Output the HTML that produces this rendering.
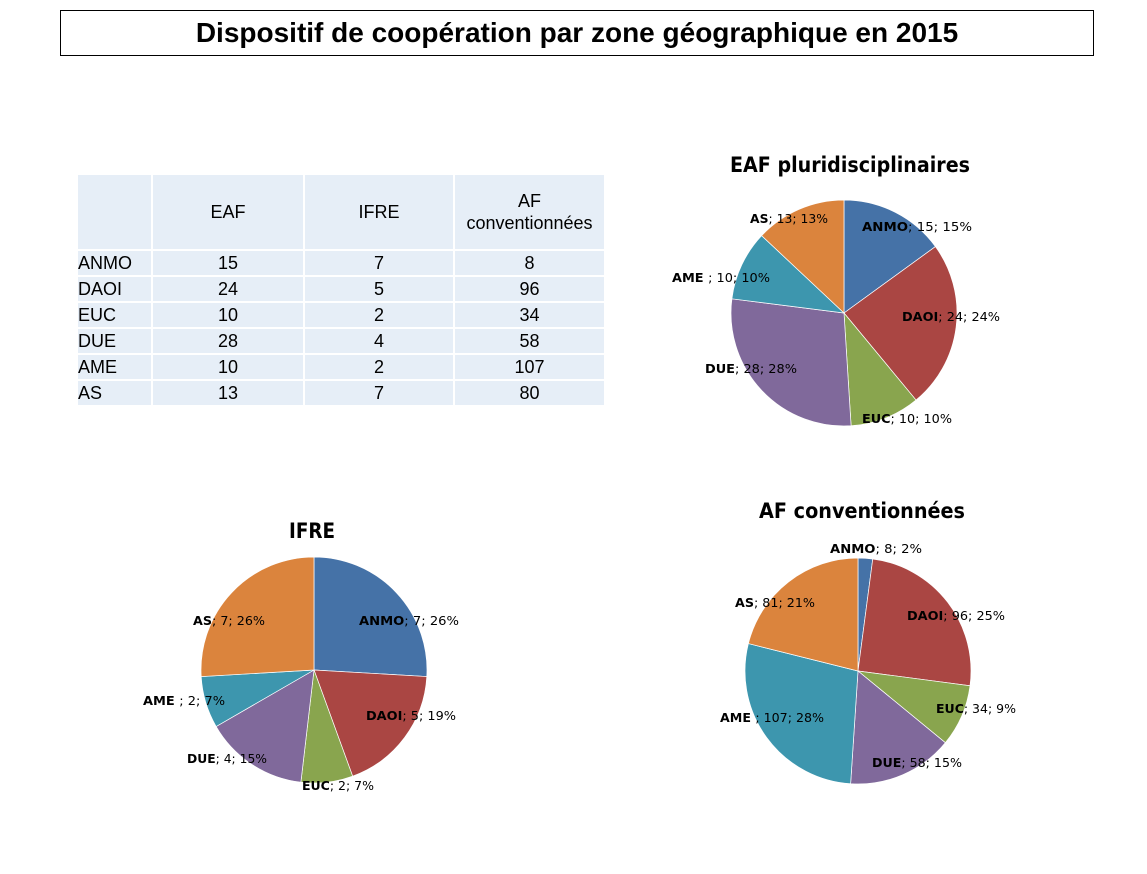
<!DOCTYPE html>
<html><head><meta charset="utf-8">
<style>
body{margin:0;background:#fff;width:1147px;height:874px;position:relative;overflow:hidden;font-family:"Liberation Sans",sans-serif}
#title{position:absolute;left:60px;top:10px;width:1032px;height:44px;border:1px solid #000;text-align:center;font-weight:bold;font-size:28px;line-height:44px}
table{position:absolute;left:76px;top:173px;border-collapse:collapse;font-size:18px}
td{background:#e6eef7;border:2px solid #fff;padding:0;text-align:center;height:24px;line-height:24px}
td.l{text-align:left}
tr.h td{height:74px;line-height:22px}
svg{position:absolute;left:0;top:0}
</style></head><body>
<div id="title">Dispositif de coopération par zone géographique en 2015</div>
<table>
<tr class="h"><td style="width:73px"></td><td style="width:150px">EAF</td><td style="width:148px">IFRE</td><td style="width:149px">AF<br>conventionnées</td></tr>
<tr><td class="l">ANMO</td><td>15</td><td>7</td><td>8</td></tr>
<tr><td class="l">DAOI</td><td>24</td><td>5</td><td>96</td></tr>
<tr><td class="l">EUC</td><td>10</td><td>2</td><td>34</td></tr>
<tr><td class="l">DUE</td><td>28</td><td>4</td><td>58</td></tr>
<tr><td class="l">AME</td><td>10</td><td>2</td><td>107</td></tr>
<tr><td class="l">AS</td><td>13</td><td>7</td><td>80</td></tr>
</table>
<svg id="chart" width="1147" height="874"></svg>
<script>
const categories=["ANMO","DAOI","EUC","DUE","AME","AS"];
const eafValues=[15,24,10,28,10,13];
const ifreValues=[7,5,2,4,2,7];
const afValues=[8,96,34,58,107,81];
const colors=["#4572a7","#aa4643","#89a54e","#80699b","#3d96ae","#db843d"];
const NS="http://www.w3.org/2000/svg";
const svg=document.getElementById('chart');
function pie(name,title,vals,cx,cy,r,tx,ty,tlen,labelPos){
  const g=document.createElementNS(NS,'g');
  
  
  svg.appendChild(g);
  const t=document.createElementNS(NS,'text');
  
  
  t.setAttribute('x',tx);t.setAttribute('y',ty);t.setAttribute('text-anchor','middle');
  t.setAttribute('font-size','21');t.setAttribute('font-weight','bold');t.setAttribute('font-family','"DejaVu Sans","Liberation Sans",sans-serif');
  t.setAttribute('textLength',tlen);t.setAttribute('lengthAdjust','spacingAndGlyphs');
  t.textContent=title;g.appendChild(t);
  const tot=vals.reduce((a,b)=>a+b,0);let a0=0;
  vals.forEach((v,i)=>{
    const a1=a0+v/tot*2*Math.PI;
    const x0=cx+r*Math.sin(a0),y0=cy-r*Math.cos(a0),x1=cx+r*Math.sin(a1),y1=cy-r*Math.cos(a1);
    const p=document.createElementNS(NS,'path');
    
    
    p.setAttribute('d',`M${cx},${cy}L${x0},${y0}A${r},${r} 0 ${a1-a0>Math.PI?1:0} 1 ${x1},${y1}Z`);
    p.setAttribute('fill',colors[i]);p.setAttribute('stroke','#fff');p.setAttribute('stroke-width','0.7');
    g.appendChild(p);
    const pct=Math.round(v/tot*100);
    const lab=document.createElementNS(NS,'text');
    
    
    lab.setAttribute('x',labelPos[i][0]);lab.setAttribute('y',labelPos[i][1]);
    lab.setAttribute('font-size','12.5');lab.setAttribute('font-family','"DejaVu Sans","Liberation Sans",sans-serif');
    lab.setAttribute('textLength',labelPos[i][2]);lab.setAttribute('lengthAdjust','spacingAndGlyphs');
    const b=document.createElementNS(NS,'tspan');b.setAttribute('font-weight','bold');
    b.textContent=categories[i]+(categories[i]==="AME"?" ":"");lab.appendChild(b);
    lab.appendChild(document.createTextNode('; '+v+'; '+pct+'%'));
    g.appendChild(lab);
    a0=a1;
  });
}
pie('eaf-pie','EAF pluridisciplinaires',eafValues,844,313,113,850,172,240,
 [[862,231,110],[902,321,98],[862,423,90],[705,373,92],[672,282,98],[750,223,78]]);
pie('ifre-pie','IFRE',ifreValues,314,670,113,312,538,46,
 [[359,625,100],[366,720,90],[302,790,72],[187,763,80],[143,705,82],[193,625,72]]);
pie('af-pie','AF conventionnées',afValues,858,671,113,862,518,206,
 [[830,553,92],[907,620,98],[936,713,80],[872,767,90],[720,722,104],[735,607,80]]);
</script>
</body></html>
